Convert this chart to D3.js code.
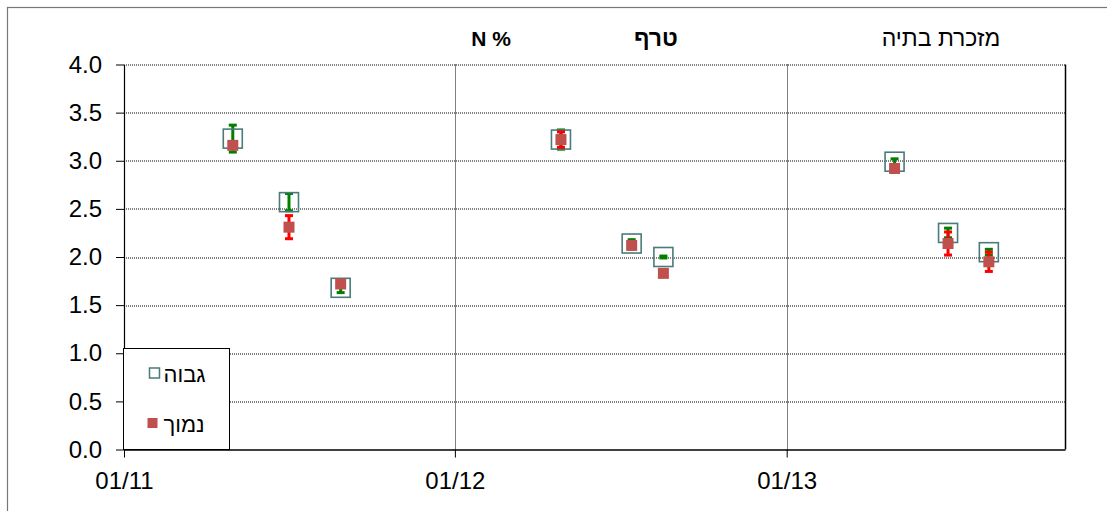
<!DOCTYPE html>
<html>
<head>
<meta charset="utf-8">
<script src="https://cdn.jsdelivr.net/npm/d3@7"></script>
<style>
  body { margin: 0; background: #fff; }
  text { font-family: "Liberation Sans", Arial, sans-serif; }
</style>
</head>
<body>
<svg width="1107" height="511"></svg>
<script>
// sampling dates (three per season)
var dates = ["2011-05-01", "2011-07-02", "2011-08-28",
             "2012-04-27", "2012-07-14", "2012-08-18",
             "2013-04-30", "2013-06-28", "2013-08-12"];
// %N, high ("גבוה") and low ("נמוך") treatments, with error bar half-widths
var highVals = [3.23, 2.57, 1.68, 3.22, 2.14, 2.00, 2.99, 2.25, 2.05];
var highErr  = [0.14, 0.09, 0.05, 0.10, 0.04, 0.01, 0.03, 0.05, 0.03];
var lowVals  = [3.16, 2.31, 1.72, 3.22, 2.12, 1.83, 2.92, 2.14, 1.95];
var lowErr   = [0.03, 0.12, 0.03, 0.08, 0.02, 0.01, 0.04, 0.12, 0.10];
var xTicks = ["2011-01-01", "2012-01-01", "2013-01-01"];
var yTicks = [0, 0.5, 1, 1.5, 2, 2.5, 3, 3.5, 4];
var seriesNames = ["גבוה", "נמוך"];
var titles = ["N %", "טרף", "מזכרת בתיה"];

var parse = d3.utcParse("%Y-%m-%d");

var svg = d3.select("svg");
var margin = {top: 64.5, right: 42, bottom: 61.5, left: 124};
var width = 1107 - margin.left - margin.right,
    height = 511 - margin.top - margin.bottom;

// outer chart border (runs off the picture on the right and bottom)
svg.append("rect")
    .attr("x", 7.5).attr("y", 7.5)
    .attr("width", 1200).attr("height", 600)
    .attr("fill", "none")
    .attr("stroke", "#777")
    .attr("stroke-width", 1.2);

var x = d3.scaleUtc()
    .domain([parse("2011-01-01"), parse("2013-11-04")])
    .range([0, width]);
var y = d3.scaleLinear()
    .domain([0, 4])
    .range([height, 0]);

var g = svg.append("g")
    .attr("transform", "translate(" + margin.left + "," + margin.top + ")");

// horizontal dotted grid
g.selectAll(".hgrid")
    .data(yTicks.filter(function (d) { return d > 0; }))
    .enter().append("line")
    .attr("class", "hgrid")
    .attr("x1", 0).attr("x2", width)
    .attr("y1", function (d) { return Math.round(y(d)) + 0.5; })
    .attr("y2", function (d) { return Math.round(y(d)) + 0.5; })
    .attr("stroke", "#000")
    .attr("stroke-dasharray", "1,1");

// vertical dotted grid
g.selectAll(".vgrid")
    .data(xTicks.slice(1))
    .enter().append("line")
    .attr("class", "vgrid")
    .attr("x1", function (d) { return Math.round(x(parse(d))) + 0.5; })
    .attr("x2", function (d) { return Math.round(x(parse(d))) + 0.5; })
    .attr("y1", 0).attr("y2", height)
    .attr("stroke", "#000")
    .attr("stroke-dasharray", "1,1");

// right border of plot area
g.append("line")
    .attr("x1", width + 0.5).attr("x2", width + 0.5)
    .attr("y1", 0).attr("y2", height)
    .attr("stroke", "#000").attr("stroke-width", 1.5);

var xAxis = g.append("g")
    .attr("transform", "translate(0," + height + ")")
    .call(d3.axisBottom(x)
        .tickValues(xTicks.map(parse))
        .tickFormat(d3.utcFormat("%m/%y"))
        .tickSize(8)
        .tickSizeOuter(0)
        .tickPadding(14));
xAxis.select(".domain").attr("stroke-width", 1.5);
xAxis.selectAll("text").attr("font-size", 24).attr("fill", "#000")
    .attr("font-family", "Liberation Sans, Arial, sans-serif");

var yAxis = g.append("g")
    .call(d3.axisLeft(y)
        .tickValues(yTicks)
        .tickFormat(d3.format(".1f"))
        .tickSize(8)
        .tickSizeOuter(0)
        .tickPadding(14));
yAxis.select(".domain").attr("stroke-width", 1.2);
yAxis.selectAll("text").attr("font-size", 24).attr("fill", "#000")
    .attr("font-family", "Liberation Sans, Arial, sans-serif");

function errorBars(vals, errs, color) {
    var eg = g.append("g");
    vals.forEach(function (v, i) {
        var cx = x(parse(dates[i]));
        var y1 = y(v + errs[i]), y2 = y(v - errs[i]);
        eg.append("line")
            .attr("x1", cx).attr("x2", cx)
            .attr("y1", y1).attr("y2", y2)
            .attr("stroke", color).attr("stroke-width", 3);
        [y1, y2].forEach(function (yy) {
            eg.append("line")
                .attr("x1", cx - 4).attr("x2", cx + 4)
                .attr("y1", yy).attr("y2", yy)
                .attr("stroke", color).attr("stroke-width", 3);
        });
    });
}

// high series: hollow squares + green error bars
errorBars(highVals, highErr, "#008000");
g.selectAll(".high")
    .data(highVals)
    .enter().append("rect")
    .attr("class", "high")
    .attr("x", function (d, i) { return x(parse(dates[i])) - 9.5; })
    .attr("y", function (d) { return y(d) - 9.5; })
    .attr("width", 19).attr("height", 19)
    .attr("fill", "none")
    .attr("stroke", "#4a7b7b")
    .attr("stroke-width", 1.6);

// low series: filled red squares + red error bars
errorBars(lowVals, lowErr, "#ff0000");
g.selectAll(".low")
    .data(lowVals)
    .enter().append("rect")
    .attr("class", "low")
    .attr("x", function (d, i) { return x(parse(dates[i])) - 5.5; })
    .attr("y", function (d) { return y(d) - 5.5; })
    .attr("width", 11).attr("height", 11)
    .attr("fill", "#c0504d");

// legend
var lg = svg.append("g").attr("transform", "translate(123.5,348.5)");
lg.append("rect")
    .attr("width", 106).attr("height", 101)
    .attr("fill", "#fff")
    .attr("stroke", "#000").attr("stroke-width", 1);
lg.append("rect")
    .attr("x", 26).attr("y", 19.5).attr("width", 10).attr("height", 10)
    .attr("fill", "#fff").attr("stroke", "#4a7b7b").attr("stroke-width", 1.5);
lg.append("rect")
    .attr("x", 24).attr("y", 69.5).attr("width", 10).attr("height", 10)
    .attr("fill", "#c0504d");
lg.selectAll(".ltext")
    .data(seriesNames)
    .enter().append("text")
    .attr("class", "ltext")
    .attr("x", 40)
    .attr("y", function (d, i) { return 33 + i * 50; })
    .attr("font-size", 22)
    .text(function (d) { return d; });

// section titles
var titleX = [491, 656, 941];
svg.selectAll(".title")
    .data(titles)
    .enter().append("text")
    .attr("class", "title")
    .attr("x", function (d, i) { return titleX[i]; })
    .attr("y", 46)
    .attr("text-anchor", "middle")
    .attr("font-size", function (d, i) { return i === 0 ? 21 : 23; })
    .attr("font-weight", function (d, i) { return i < 2 ? "bold" : "normal"; })
    .text(function (d) { return d; });
</script>
</body>
</html>
